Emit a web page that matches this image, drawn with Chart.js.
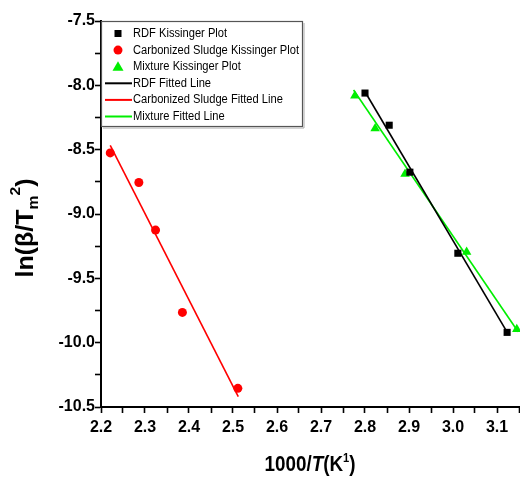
<!DOCTYPE html>
<html><head><meta charset="utf-8">
<script src="https://cdn.jsdelivr.net/npm/chart.js@4/dist/chart.umd.min.js"></script>
<style>html,body{margin:0;padding:0;background:#fff;}#wrap{width:520px;height:482px;position:relative;}</style>
</head><body><div id="wrap"><canvas id="c" width="520" height="482"></canvas></div>
<script>
// ---- data ----
const seriesNames = [
  'RDF Kissinger Plot',
  'Carbonized Sludge Kissinger Plot',
  'Mixture Kissinger Plot',
  'RDF Fitted Line',
  'Carbonized Sludge Fitted Line',
  'Mixture Fitted Line'
];
const rdfX = [2.800, 2.855, 2.902, 3.011, 3.123];
const rdfY = [-8.06, -8.31, -8.675, -9.305, -9.92];
const sludgeX = [2.221, 2.286, 2.324, 2.385, 2.511];
const sludgeY = [-8.525, -8.755, -9.125, -9.765, -10.355];
const mixX = [2.777, 2.823, 2.891, 3.031, 3.145];
const mixY = [-8.08, -8.335, -8.69, -9.295, -9.895];
const rdfFitX = [2.800, 3.125];
const rdfFitY = [-8.05, -9.93];
const sludgeFitX = [2.221, 2.512];
const sludgeFitY = [-8.466, -10.42];
const mixFitX = [2.774, 3.148];
const mixFitY = [-8.036, -9.915];
const xMajorTicks = [2.2, 2.3, 2.4, 2.5, 2.6, 2.7, 2.8, 2.9, 3.0, 3.1];
const yMajorTicks = [-7.5, -8.0, -8.5, -9.0, -9.5, -10.0, -10.5];
const xTitleParts = ['1000/', 'T', '(K', '1', ')'];
const yTitleParts = ['ln(β/T', 'm', '2', ')'];

const tickFont = {family:"'Liberation Sans'", size:16, weight:'bold'};

function pts(xs, ys){ return xs.map((x,i)=>({x:x, y:ys[i]})); }
function withMinor(major, step){
  const out=[];
  major.forEach((v)=>{ out.push(v); out.push(Math.round((v+step)*1000)/1000); });
  return out;
}
const xAllTicks = withMinor(xMajorTicks, 0.05);
const yAllTicks = withMinor(yMajorTicks.slice().reverse(), 0.25).filter(v=>v<=-7.5);

const GREEN = '#00ee00', RED = '#ff0000', BLACK = '#000000';

const datasets = [
  {label:seriesNames[0], data:pts(rdfX,rdfY), showLine:false, pointStyle:'rect', pointRadius:5, backgroundColor:BLACK, borderColor:BLACK, borderWidth:0, clip:false},
  {label:seriesNames[1], data:pts(sludgeX,sludgeY), showLine:false, pointStyle:'circle', pointRadius:4.5, backgroundColor:RED, borderColor:RED, borderWidth:0, clip:false},
  {label:seriesNames[2], data:pts(mixX,mixY), showLine:false, pointStyle:'triangle', pointRadius:5.5, backgroundColor:GREEN, borderColor:GREEN, borderWidth:0, clip:false},
  {label:seriesNames[3], data:pts(rdfFitX,rdfFitY), showLine:true, pointRadius:0, borderColor:BLACK, borderWidth:1.6, fill:false, clip:false},
  {label:seriesNames[4], data:pts(sludgeFitX,sludgeFitY), showLine:true, pointRadius:0, borderColor:RED, borderWidth:1.6, fill:false, clip:false},
  {label:seriesNames[5], data:pts(mixFitX,mixFitY), showLine:true, pointRadius:0, borderColor:GREEN, borderWidth:1.6, fill:false, clip:false}
];

function drawParts(ctx, parts, targetW){
  let w=0; parts.forEach(p=>{ctx.font=p.font; p.w=ctx.measureText(p.t).width; w+=p.w;});
  const sx = targetW ? targetW/w : 1;
  ctx.scale(sx,1);
  let x=-w/2;
  parts.forEach(p=>{ctx.font=p.font; ctx.fillText(p.t, x, p.dy); x+=p.w;});
}

const overlay = {
  id:'overlay',
  afterDraw(chart){
    const ctx = chart.ctx;
    const ca = chart.chartArea;
    ctx.save();
    ctx.fillStyle='#000'; ctx.textBaseline='alphabetic'; ctx.textAlign='left';
    // x title
    ctx.save();
    ctx.translate(310, 471);
    drawParts(ctx, [
      {t:xTitleParts[0], font:"bold 22px 'Liberation Sans'", dy:0},
      {t:xTitleParts[1], font:"italic bold 22px 'Liberation Sans'", dy:0},
      {t:xTitleParts[2], font:"bold 22px 'Liberation Sans'", dy:0},
      {t:xTitleParts[3], font:"bold 13px 'Liberation Sans'", dy:-9},
      {t:xTitleParts[4], font:"bold 22px 'Liberation Sans'", dy:0}
    ], 91);
    ctx.restore();
    // y title
    ctx.save();
    ctx.translate(33, 228);
    ctx.rotate(-Math.PI/2);
    drawParts(ctx, [
      {t:yTitleParts[0], font:"bold 24px 'Liberation Sans'", dy:0},
      {t:yTitleParts[1], font:"bold 15px 'Liberation Sans'", dy:5},
      {t:yTitleParts[2], font:"bold 15px 'Liberation Sans'", dy:-13},
      {t:yTitleParts[3], font:"bold 24px 'Liberation Sans'", dy:0}
    ], 99);
    ctx.restore();
    // legend
    const bx = ca.left, by = ca.top, bw = 201, bh = 105;
    ctx.fillStyle='#fff'; ctx.fillRect(bx, by, bw, bh);
    ctx.strokeStyle='#555'; ctx.lineWidth=1.2;
    ctx.strokeRect(bx+0.5, by+0.5, bw, bh);
    ctx.strokeStyle='#aaa'; ctx.lineWidth=1;
    ctx.beginPath(); ctx.moveTo(bx+2, by+bh+2); ctx.lineTo(bx+bw+2, by+bh+2); ctx.lineTo(bx+bw+2, by+2); ctx.stroke();
    const legendFont = "12.5px 'Liberation Sans'";
    ctx.font = legendFont;
    let maxW = 0; chart.data.datasets.forEach(d=>{maxW=Math.max(maxW, ctx.measureText(d.label).width);});
    const sx = 166/maxW;
    chart.data.datasets.forEach((d,i)=>{
      const cy = by + 12.5 + i*16.6;
      const mx = bx + 17;
      if (d.showLine){
        ctx.strokeStyle=d.borderColor; ctx.lineWidth=2;
        ctx.beginPath(); ctx.moveTo(bx+4, cy); ctx.lineTo(bx+31, cy); ctx.stroke();
      } else {
        ctx.fillStyle=d.backgroundColor;
        ctx.beginPath();
        if (d.pointStyle==='rect'){ ctx.rect(mx-3.5, cy-3.5, 7, 7); }
        else if (d.pointStyle==='circle'){ ctx.arc(mx, cy, 4.5, 0, Math.PI*2); }
        else { ctx.moveTo(mx, cy-5.5); ctx.lineTo(mx+5.5, cy+4); ctx.lineTo(mx-5.5, cy+4); ctx.closePath(); }
        ctx.fill();
      }
      ctx.save();
      ctx.fillStyle='#000'; ctx.font=legendFont; ctx.textBaseline='middle';
      ctx.translate(bx+32, cy);
      ctx.scale(sx,1);
      ctx.fillText(d.label, 0, 0);
      ctx.restore();
    });
    ctx.restore();
  }
};

new Chart(document.getElementById('c'), {
  type:'scatter',
  data:{datasets:datasets},
  options:{
    responsive:false, animation:false, devicePixelRatio:1,
    layout:{padding:{top:21, right:1, left:0, bottom:0}, autoPadding:false},
    plugins:{legend:{display:false}, tooltip:{enabled:false}},
    scales:{
      x:{type:'linear', min:2.2, max:3.15, position:'bottom',
        afterBuildTicks:s=>{ s.ticks = xAllTicks.map(v=>({value:v})); },
        afterFit:s=>{ s.height = 75; s.paddingLeft = 0; s.paddingRight = 0; },
        ticks:{autoSkip:false, maxRotation:0, color:'#000', font:tickFont, padding:5,
          callback:(v)=> xMajorTicks.some(m=>Math.abs(m-v)<1e-6) ? Number(v).toFixed(1) : ''},
        grid:{drawOnChartArea:false, drawTicks:true, tickLength:6, tickWidth:1.6, tickColor:'#000'},
        border:{display:true, color:'#000', width:2}
      },
      y:{type:'linear', min:-10.5, max:-7.5, position:'left',
        afterBuildTicks:s=>{ s.ticks = yAllTicks.map(v=>({value:v})); },
        afterFit:s=>{ s.width = 101; s.paddingTop = 0; s.paddingBottom = 0; },
        ticks:{autoSkip:false, color:'#000', font:tickFont, padding:0,
          callback:(v)=> yMajorTicks.some(m=>Math.abs(m-v)<1e-6) ? Number(v).toFixed(1) : ''},
        grid:{drawOnChartArea:false, drawTicks:true, tickLength:6, tickWidth:1.6, tickColor:'#000'},
        border:{display:true, color:'#000', width:2}
      }
    }
  },
  plugins:[overlay]
});
</script></body></html>
